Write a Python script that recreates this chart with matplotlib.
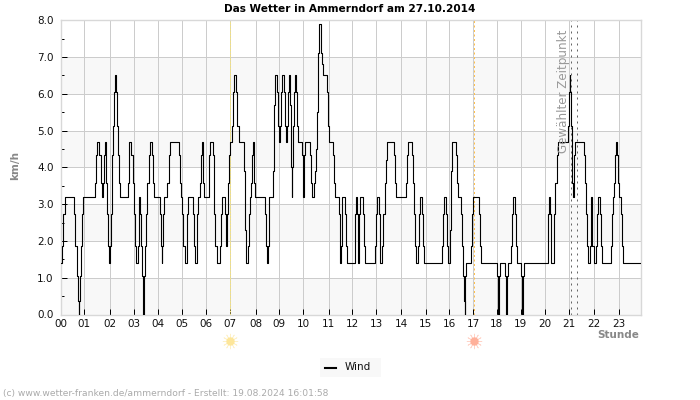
#!/usr/bin/env python3

import matplotlib

matplotlib.use("Agg")
import matplotlib.pyplot as plt
from matplotlib.patches import Rectangle
from matplotlib.transforms import blended_transform_factory


TITLE = "Das Wetter in Ammerndorf am 27.10.2014"
FOOTER = "(c) www.wetter-franken.de/ammerndorf - Erstellt: 19.08.2024 16:01:58"

# step changes of the wind trace: hour of day and km/h from there on
wind_hours = [
    0.02, 0.06, 0.12, 0.17, 0.56, 0.61, 0.67, 0.72, 0.75, 0.78, 0.80, 0.83, 0.89, 0.91,
    1.41, 1.45, 1.52, 1.60, 1.66, 1.70, 1.77, 1.81, 1.85, 1.88, 1.93, 1.97,
    2.01, 2.04, 2.09, 2.14, 2.18, 2.22, 2.26, 2.29, 2.34, 2.38, 2.42, 2.45, 2.77, 2.82, 2.92, 2.97,
    3.02, 3.06, 3.10, 3.18, 3.22, 3.25, 3.28, 3.33, 3.37, 3.41, 3.44, 3.50, 3.54, 3.58, 3.63, 3.67, 3.76, 3.80, 3.84,
    4.09, 4.13, 4.17, 4.20, 4.22, 4.25, 4.40, 4.46, 4.53, 4.87, 4.91, 4.97,
    5.02, 5.06, 5.12, 5.20, 5.23, 5.27, 5.45, 5.49, 5.53, 5.61, 5.64, 5.68, 5.76, 5.81, 5.83, 5.86, 5.93,
    6.11, 6.13, 6.17, 6.27, 6.31, 6.34, 6.38, 6.44, 6.59, 6.61, 6.66, 6.77, 6.81, 6.85, 6.90, 6.96,
    7.00, 7.08, 7.11, 7.16, 7.25, 7.29, 7.34, 7.55, 7.59, 7.63, 7.71, 7.75, 7.80, 7.86, 7.91, 7.95, 7.97,
    8.02, 8.44, 8.48, 8.52, 8.55, 8.58, 8.60, 8.77, 8.81, 8.85, 8.93, 8.98,
    9.02, 9.04, 9.07, 9.11, 9.20, 9.24, 9.28, 9.35, 9.39, 9.43, 9.46, 9.48, 9.53, 9.55, 9.59, 9.64, 9.68, 9.70, 9.76, 9.80, 9.94, 9.98,
    10.01, 10.03, 10.09, 10.27, 10.31, 10.35, 10.43, 10.47, 10.51, 10.56, 10.60, 10.64, 10.72, 10.76, 10.80, 10.97,
    11.01, 11.05, 11.21, 11.26, 11.30, 11.46, 11.50, 11.53, 11.56, 11.59, 11.61, 11.71, 11.75, 11.79,
    12.12, 12.15, 12.19, 12.22, 12.26, 12.29, 12.35, 12.45, 12.49, 12.53, 12.95, 12.99,
    13.03, 13.11, 13.15, 13.18, 13.26, 13.30, 13.36, 13.40, 13.44, 13.47, 13.73, 13.77, 13.81,
    14.22, 14.26, 14.31, 14.47, 14.51, 14.55, 14.59, 14.64, 14.72, 14.76, 14.80, 14.88, 14.92, 14.96,
    15.71, 15.75, 15.79, 15.87, 15.91, 15.95,
    16.04, 16.08, 16.12, 16.28, 16.32, 16.37, 16.49, 16.53, 16.57, 16.61, 16.65, 16.68, 16.72, 16.90, 16.94, 16.98,
    17.23, 17.27, 17.31, 17.97,
    18.01, 18.04, 18.07, 18.12, 18.30, 18.34, 18.37, 18.41, 18.45, 18.55, 18.59, 18.63, 18.71, 18.75, 18.80, 18.96,
    19.00, 19.03, 19.06, 19.11,
    20.07, 20.10, 20.14, 20.17, 20.22, 20.32, 20.35, 20.39, 20.44, 20.48, 20.92, 20.95, 20.98,
    21.01, 21.05, 21.06, 21.09, 21.13, 21.16, 21.21, 21.56, 21.60, 21.64, 21.68, 21.72, 21.80, 21.84, 21.87, 21.90, 21.97,
    22.05, 22.09, 22.13, 22.22, 22.26, 22.30, 22.67, 22.71, 22.75, 22.82, 22.86, 22.90, 22.93, 22.99,
    23.03, 23.08, 23.12, 23.16, 23.88,
]
wind_kmh = [
    1.4, 1.86, 2.74, 3.2, 2.74, 1.86, 1.06, 0.36, 0, 0.36, 1.06, 1.86, 2.74, 3.2,
    3.57, 4.33, 4.69, 4.33, 3.57, 3.2, 3.57, 4.33, 4.69, 3.57, 2.74, 1.86,
    1.4, 1.86, 2.74, 4.33, 5.13, 6.06, 6.5, 6.06, 5.13, 4.33, 3.57, 3.2, 3.57, 4.69, 4.33, 3.57,
    2.74, 1.86, 1.4, 1.86, 2.74, 3.2, 2.74, 1.86, 1.06, 0, 1.06, 1.86, 2.74, 3.57, 4.33, 4.69, 4.33, 3.57, 3.2,
    2.74, 1.86, 1.4, 1.86, 2.74, 3.2, 3.57, 4.33, 4.69, 4.33, 3.57, 3.2,
    2.74, 1.86, 1.4, 1.86, 2.74, 3.2, 2.74, 1.86, 1.4, 1.86, 2.74, 3.2, 3.57, 4.33, 4.69, 3.57, 3.2,
    3.57, 4.33, 4.69, 4.33, 3.57, 2.74, 1.86, 1.4, 1.86, 2.74, 3.2, 2.74, 1.86, 2.74, 3.57, 4.33,
    4.69, 5.13, 6.06, 6.5, 6.06, 5.13, 4.69, 3.9, 2.3, 1.4, 1.86, 2.74, 3.2, 3.57, 4.33, 4.69, 3.57,
    3.2, 2.74, 1.86, 1.4, 1.86, 2.74, 3.2, 3.9, 5.7, 6.5, 6.06, 5.13,
    4.69, 5.13, 6.06, 6.5, 6.06, 5.13, 4.69, 5.13, 6.06, 6.5, 5.7, 4.0, 3.2, 4.0, 5.13, 6.06, 6.5, 6.06, 5.13, 4.69, 4.33, 3.57,
    3.2, 4.33, 4.69, 4.33, 3.57, 3.2, 3.57, 3.9, 4.5, 5.5, 7.1, 7.9, 7.1, 6.8, 6.5, 6.06,
    5.13, 4.69, 4.33, 3.57, 3.2, 2.74, 1.86, 1.4, 1.86, 2.74, 3.2, 2.74, 1.86, 1.4,
    1.86, 2.74, 3.2, 2.74, 1.4, 2.74, 3.2, 2.74, 1.86, 1.4, 1.86, 2.74,
    3.2, 2.74, 1.86, 1.4, 1.86, 2.74, 3.57, 4.2, 4.33, 4.69, 4.33, 3.57, 3.2,
    3.57, 4.33, 4.69, 4.33, 3.57, 2.74, 1.86, 1.4, 1.86, 2.74, 3.2, 2.74, 1.86, 1.4,
    1.86, 2.74, 3.2, 2.74, 1.86, 1.4,
    2.3, 3.9, 4.69, 4.33, 3.57, 3.2, 2.74, 1.86, 1.06, 0.36, 0, 1.06, 1.4, 1.86, 2.74, 3.2,
    2.74, 1.86, 1.4, 1.06,
    0.36, 0, 1.06, 1.4, 1.06, 0.36, 0, 1.06, 1.4, 1.86, 2.74, 3.2, 2.74, 1.86, 1.4, 1.06,
    0.36, 0, 1.06, 1.4,
    1.86, 2.74, 3.2, 2.74, 1.4, 1.86, 2.74, 3.57, 4.33, 4.69, 5.13, 6.06, 6.5,
    6.06, 5.13, 4.33, 3.57, 3.2, 4.33, 4.69, 4.33, 3.57, 2.74, 1.86, 1.4, 1.86, 2.74, 3.2, 1.86, 1.4,
    1.86, 2.74, 3.2, 2.74, 1.86, 1.4, 1.86, 2.74, 3.2, 3.57, 4.33, 4.69, 4.33, 3.57,
    3.2, 2.74, 1.86, 1.4, 1.4,
]

hour_labels = [f"{h:02d}" for h in range(24)]
# the hour ticks sit on the first sample of each hour, so not quite evenly
hour_ticks = [
    0, 0.98, 2.03, 3.02, 4.0, 5.01, 6.0, 7.0, 8.04, 9.01, 10.0, 11.05,
    12.02, 13.01, 14.03, 15.05, 16.02, 17.01, 17.97, 18.96, 19.97, 20.96, 21.97, 23.0,
]
y_major = [0, 1, 2, 3, 4, 5, 6, 7, 8]
y_minor = [0.5, 1.5, 2.5, 3.5, 4.5, 5.5, 6.5, 7.5]
gray_bands = [(0, 1), (2, 3), (4, 5), (6, 7)]

sunrise_hour = 7.0
sunset_hour = 17.03
selected_hours = [21.05, 21.30]

W, H = 700, 400
PX = 0.72  # one pixel in points at dpi 100


def sun_icon(ax, hour, color):
    # icon sits below the axis: x in data, y in figure pixels
    trans = blended_transform_factory(ax.transData, ax.figure.transFigure)
    y = 1 - 341 / H
    ax.plot([hour], [y], transform=trans, marker=(12, 2, 0), markersize=11, markeredgewidth=0.5,
            color=color, alpha=0.55, clip_on=False, zorder=5)
    ax.plot([hour], [y], transform=trans, marker="o", markersize=6, markeredgewidth=0,
            color=color, clip_on=False, zorder=6)


def main() -> None:
    plt.rcParams["font.family"] = "DejaVu Sans"
    fig = plt.figure(figsize=(W / 100, H / 100), dpi=100)
    ax = fig.add_axes([60.5 / W, 1 - 314.5 / H, 580 / W, 294.2 / H])

    for low, high in gray_bands:
        ax.axhspan(low, high, color="#f8f8f8", linewidth=0, zorder=0)
    ax.grid(True, which="major", color="#cccccc", linewidth=PX, zorder=1)
    ax.set_axisbelow(True)

    ax.axvline(sunrise_hour, color="#f5e27a", linewidth=PX, linestyle=(0, (2, 1)), zorder=2)
    ax.axvline(sunset_hour, color="#ffc04d", linewidth=PX, linestyle=(0, (2, 2.5)), zorder=2)
    for hour in selected_hours:
        ax.axvline(hour, color="#666666", linewidth=PX, linestyle=(0, (2, 4)), zorder=2)

    ax.plot(wind_hours, wind_kmh, drawstyle="steps-post", color="black", linewidth=0.8, zorder=3)

    ax.set_xlim(0, 23.9)
    ax.set_ylim(0, 8)
    ax.set_xticks(hour_ticks)
    ax.set_xticklabels(hour_labels)
    ax.set_yticks(y_major)
    ax.set_yticklabels([f"{v:.1f}" for v in y_major])
    ax.set_yticks(y_minor, minor=True)
    ax.tick_params(axis="both", which="major", direction="in", length=4, width=PX,
                   labelsize=7.5, labelcolor="#111111", pad=3)
    ax.tick_params(axis="y", which="minor", direction="in", length=2, width=PX)
    ax.tick_params(axis="y", which="major", pad=5)
    for spine in ax.spines.values():
        spine.set_color("#d8d8d8")
        spine.set_linewidth(1)

    ax.text(21.05 - 0.32, 4.39, "Gewählter Zeitpunkt", rotation=90, ha="center", va="bottom",
            fontsize=8.6, color="#999999", zorder=4)

    sun_icon(ax, sunrise_hour, "#fde69a")
    sun_icon(ax, sunset_hour, "#ffb09a")

    fig.text(349.5 / W, 1 - 9 / H, TITLE, ha="center", va="center", fontsize=7.6, fontweight="bold", color="black")
    fig.text(15.5 / W, 1 - 166 / H, "km/h", ha="center", va="center", rotation=90, fontsize=7.5,
             fontweight="bold", color="#888888")
    fig.text(639 / W, 1 - 334.5 / H, "Stunde", ha="right", va="center", fontsize=7.5,
             fontweight="bold", color="#888888")
    fig.text(3 / W, 1 - 393.5 / H, FOOTER, ha="left", va="center", fontsize=6.6, color="#aaaaaa")

    # legend drawn by hand, the box is a plain light strip without frame
    fig.add_artist(Rectangle((320 / W, 1 - 377 / H), 61 / W, 19 / H, transform=fig.transFigure,
                             facecolor="#f8f8f8", edgecolor="none"))
    fig.add_artist(plt.Line2D([325 / W, 336 / W], [1 - 368 / H, 1 - 368 / H], transform=fig.transFigure,
                              color="black", linewidth=1.5))
    fig.text(345 / W, 1 - 366.5 / H, "Wind", ha="left", va="center", fontsize=7.5, color="#111111")

    fig.savefig("out.png", dpi=100)
    plt.close(fig)


if __name__ == "__main__":
    main()
